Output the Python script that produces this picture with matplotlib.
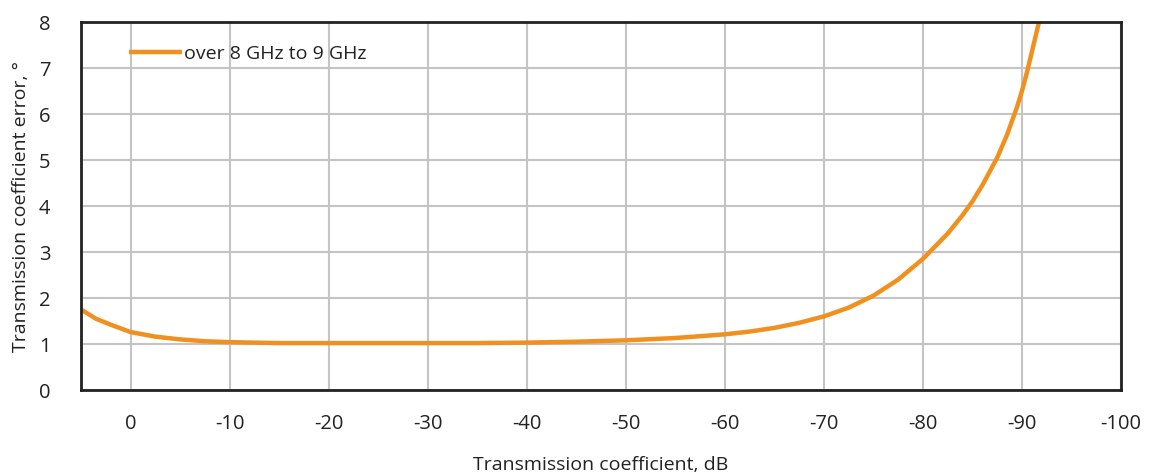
import matplotlib
matplotlib.use("Agg")
import matplotlib.pyplot as plt
import numpy as np

# Data
x_db = [5, 3.5, 2, 0, -2.5, -5, -7.5, -10, -15, -20, -25, -30, -35, -40, -45, -50, -55,
        -60, -62.5, -65, -67.5, -70, -72.5, -75, -77.5, -80, -82.5, -84, -85, -86, -87.5,
        -88.5, -89.5, -90, -90.5, -91, -91.5, -92]
err_deg = [1.75, 1.55, 1.42, 1.26, 1.16, 1.10, 1.06, 1.04, 1.02, 1.02, 1.02, 1.02, 1.02, 1.03, 1.05, 1.08, 1.13,
           1.21, 1.27, 1.35, 1.46, 1.60, 1.79, 2.05, 2.40, 2.85, 3.40, 3.80, 4.10, 4.45, 5.05,
           5.55, 6.15, 6.50, 6.90, 7.35, 7.80, 8.25]
x_ticks = [0, -10, -20, -30, -40, -50, -60, -70, -80, -90, -100]
y_ticks = [0, 1, 2, 3, 4, 5, 6, 7, 8]
series_label = "over 8 GHz to 9 GHz"

plt.rcParams['font.family'] = ['Open Sans', 'DejaVu Sans']

fig = plt.figure(figsize=(11.53, 4.73), dpi=100)
ax = fig.add_axes([81/1153, 1 - 390/473, (1121 - 81)/1153, (390 - 22)/473])

ax.plot(x_db, err_deg, color='#F0901E', lw=3.2, label=series_label,
        solid_joinstyle='round', solid_capstyle='butt')

ax.set_xlim(5, -100)
ax.set_ylim(0, 8)
ax.set_xticks(x_ticks)
ax.set_xticklabels([str(v) for v in x_ticks])
ax.set_yticks(y_ticks)
ax.grid(True, color='#c4c4c4', lw=1.5)
ax.set_axisbelow(True)
ax.tick_params(length=0, labelsize=14.5, colors='#222222')
ax.tick_params(axis='y', pad=22)
ax.tick_params(axis='x', pad=17)
for s in ax.spines.values():
    s.set_color('#222222')
    s.set_linewidth(2)

ax.set_xlabel("Transmission coefficient, dB", fontsize=14, color='#222222', labelpad=16)
ax.set_ylabel("Transmission coefficient error, °", fontsize=14, color='#222222', labelpad=6)

leg = ax.legend(loc='upper left', bbox_to_anchor=(0.035, 0.97), frameon=False, fontsize=14,
                handlelength=2.7, handletextpad=0.1, borderaxespad=0.2)
for t in leg.get_texts():
    t.set_color('#222222')

fig.savefig("out.png", dpi=100)
